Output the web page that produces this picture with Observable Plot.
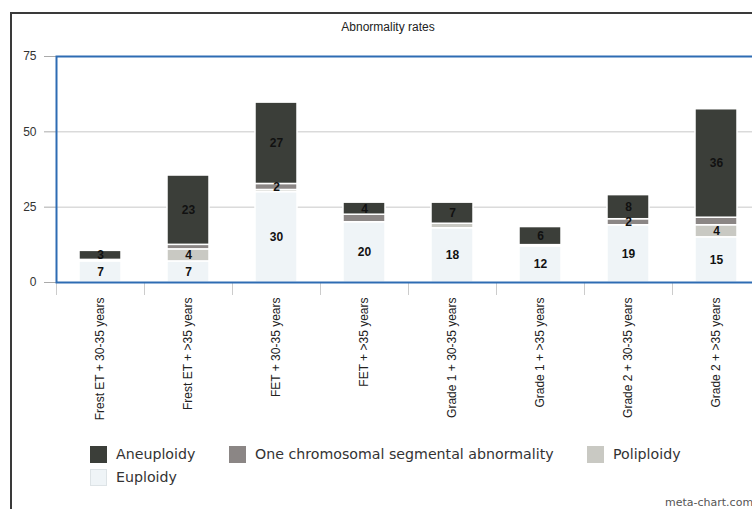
<!DOCTYPE html>
<html>
<head>
<meta charset="utf-8">
<script src="https://cdn.jsdelivr.net/npm/d3@7"></script>
<script src="https://cdn.jsdelivr.net/npm/@observablehq/plot@0.6"></script>
<style>
  html, body { margin: 0; padding: 0; background: #fff; overflow: hidden; width: 752px; height: 509px; }
  body { font-family: "Liberation Sans", Arial, sans-serif; position: relative; }
  #frame { position: absolute; left: 10px; top: 12px; width: 900px; height: 600px; border-left: 2px solid #3a3a3a; border-top: 2px solid #3a3a3a; pointer-events: none; }
  #title { position: absolute; left: 0; top: 20px; width: 776px; text-align: center; font-size: 12px; color: #222; }
  #chart { position: absolute; left: 0; top: 40px; width: 776px; }
  #chart svg { max-width: none !important; width: 776px; height: 380px; }
  #legend { position: absolute; left: 0; top: 420px; width: 752px; height: 80px; font-family: "DejaVu Sans", sans-serif; font-size: 14.2px; color: #333; }
  .item { position: absolute; height: 17px; line-height: 17px; white-space: nowrap; }
  .sw { display: inline-block; width: 17px; height: 17px; vertical-align: top; margin-right: 9px; box-sizing: border-box; }
  #credit { position: absolute; left: 665px; top: 496px; font-family: "DejaVu Sans", sans-serif; font-size: 11px; color: #555; white-space: nowrap; }
</style>
</head>
<body>
<div id="frame"></div>
<div id="title">Abnormality rates</div>
<div id="chart"></div>
<div id="legend"></div>
<div id="credit">meta-chart.com</div>
<script>
const categories = [
  "Frest ET + 30-35 years",
  "Frest ET + >35 years",
  "FET + 30-35 years",
  "FET + >35 years",
  "Grade 1 + 30-35 years",
  "Grade 1 + >35 years",
  "Grade 2 + 30-35 years",
  "Grade 2 + >35 years"
];
const seriesNames = ["Euploidy", "Poliploidy", "One chromosomal segmental abnormality", "Aneuploidy"];
const euploidy   = [7, 7, 30, 20, 18, 12, 19, 15];
const poliploidy = [0.5, 4, 0.7, 0, 1.5, 0.4, 0, 4];
const oneChrom   = [0, 1.5, 2, 2.5, 0, 0, 2, 2.5];
const aneuploidy = [3, 23, 27, 4, 7, 6, 8, 36];
const yTicks = [0, 25, 50, 75];
const colors = ["#eff4f7", "#c9c9c3", "#8b8685", "#3b3e39"];
const legendOrder = ["Aneuploidy", "One chromosomal segmental abnormality", "Poliploidy", "Euploidy"];

const seriesValues = [euploidy, poliploidy, oneChrom, aneuploidy];
const data = [];
categories.forEach((c, i) => {
  seriesNames.forEach((s, j) => {
    data.push({category: c, series: s, value: seriesValues[j][i]});
  });
});
// segment labels are shown for whole values of at least 2
const labelText = d => (Number.isInteger(d.value) && d.value >= 2) ? String(d.value) : "";

const chart = Plot.plot({
  width: 776,
  height: 380,
  marginTop: 16,
  marginBottom: 138,
  marginLeft: 56,
  marginRight: 16,
  style: {fontFamily: "Liberation Sans, Arial, sans-serif", background: "transparent", overflow: "visible"},
  x: {domain: categories, paddingInner: 0.52, paddingOuter: 0.26, label: null},
  y: {domain: [0, 75], label: null},
  color: {domain: seriesNames, range: colors},
  marks: [
    Plot.gridY([25, 50], {stroke: "#c8c8c8", strokeOpacity: 1}),
    Plot.barY(data, Plot.stackY({x: "category", y: "value", fill: "series", z: "series", stroke: "#fff", strokeWidth: 1.5})),
    Plot.text(data, Plot.stackY({x: "category", y: "value", z: "series", text: labelText, fontWeight: "bold", fontSize: 12, fill: "#111"})),
    Plot.axisY({ticks: yTicks, tickSize: 12, tickPadding: 8, stroke: "#aaa", fill: "#333", fontSize: 12}),
    Plot.axisX({tickSize: 13, tickFormat: () => "", dx: -44, stroke: "#ccc"}),
    Plot.axisX({tickSize: 0, tickPadding: 15, tickRotate: -90, fontSize: 12, fill: "#222"}),
    Plot.frame({stroke: "#2e6cb3", strokeWidth: 2})
  ]
});
document.getElementById("chart").appendChild(chart);

const legendPos = [
  {left: 90, top: 26},
  {left: 229, top: 26},
  {left: 587, top: 26},
  {left: 90, top: 49}
];
const legend = document.getElementById("legend");
legendOrder.forEach((name, i) => {
  const item = document.createElement("div");
  item.className = "item";
  item.style.left = legendPos[i].left + "px";
  item.style.top = legendPos[i].top + "px";
  const sw = document.createElement("span");
  sw.className = "sw";
  sw.style.background = colors[seriesNames.indexOf(name)];
  if (name === "Euploidy") sw.style.border = "1px solid #dde3e6";
  item.appendChild(sw);
  item.appendChild(document.createTextNode(name));
  legend.appendChild(item);
});
</script>
</body>
</html>
